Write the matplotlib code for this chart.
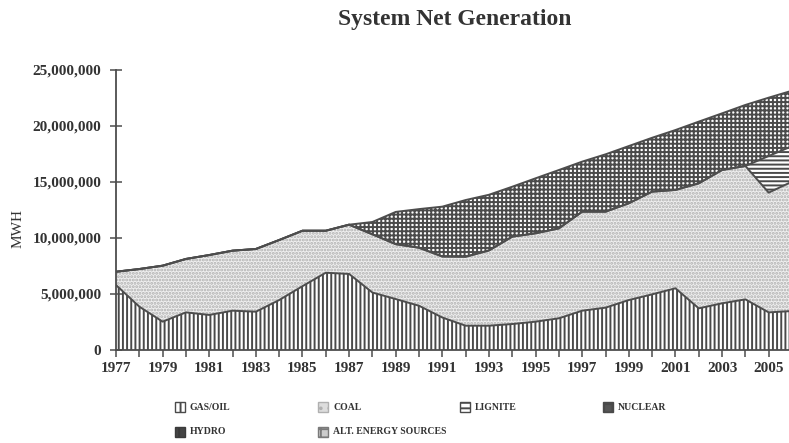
import numpy as np
import matplotlib
matplotlib.use('Agg')
import matplotlib.pyplot as plt
from matplotlib.patches import Rectangle
from matplotlib.ticker import FuncFormatter

plt.rcParams['font.family'] = 'Liberation Serif'
plt.rcParams['hatch.linewidth'] = 1.4

# values in millions of MWH
years = np.arange(1977, 2007)
gas_oil = np.array([5.80, 3.87, 2.53, 3.36, 3.13, 3.51, 3.42, 4.46, 5.70, 6.90,
                    6.79, 5.13, 4.55, 3.95, 2.90, 2.17, 2.17, 2.32, 2.53, 2.83,
                    3.51, 3.78, 4.46, 4.97, 5.51, 3.72, 4.17, 4.52, 3.36, 3.48])
coal = np.array([1.19, 3.36, 5.00, 4.77, 5.35, 5.36, 5.60, 5.36, 4.95, 3.75,
                 4.40, 5.20, 4.90, 5.18, 5.45, 6.16, 6.72, 7.80, 7.89, 8.03,
                 8.84, 8.57, 8.64, 9.17, 8.78, 11.16, 11.90, 11.91, 10.69, 11.55])
lignite = np.array([0, 0, 0, 0, 0, 0, 0, 0, 0, 0,
                    0, 0, 0, 0, 0, 0, 0, 0, 0, 0,
                    0, 0, 0, 0, 0, 0, 0, 0, 3.27, 3.17])
nuclear = np.array([0, 0, 0, 0, 0, 0, 0, 0, 0, 0,
                    0, 1.10, 2.88, 3.45, 4.45, 5.06, 4.97, 4.46, 4.91, 5.21,
                    4.47, 5.12, 5.11, 4.81, 5.35, 5.51, 5.06, 5.45, 5.21, 4.95])
hydro = np.zeros(len(years))
alt_energy = np.zeros(len(years))

names = ['GAS/OIL', 'COAL', 'LIGNITE', 'NUCLEAR', 'HYDRO', 'ALT. ENERGY SOURCES']
series = [gas_oil, coal, lignite, nuclear, hydro, alt_energy]
series = [s * 1e6 for s in series]

faces = ['white', '#efefef', 'white', 'white', 'white', '#dddddd']
hatches = ['||||', '.....', '----', '++++', '|||', '+++']
hcolors = ['#4a4a4a', '#b0b0b0', '#4a4a4a', '#4a4a4a', '#3a3a3a', '#7a7a7a']
line_c = '#4d4d4d'
text_c = '#333333'

fig = plt.figure(figsize=(7.89, 4.43), dpi=100)
ax = fig.add_axes([116/789, 1-350/443, 676/789, 280/443])

polys = ax.stackplot(years, *series, colors=faces, linewidth=0)
for p, h, c in zip(polys, hatches, hcolors):
    p.set_hatch(h)
    p.set_edgecolor(c)

cum = np.cumsum(series, axis=0)
for k in range(4):
    ax.plot(years, cum[k], color=line_c, lw=1.4, zorder=3)

ax.set_xlim(1977, 2006)
ax.set_ylim(0, 25e6)
ax.set_xticks(years[::2])
ax.set_xticks(years, minor=True)
ax.set_yticks(np.arange(0, 25e6 + 1, 5e6))
ax.yaxis.set_major_formatter(FuncFormatter(lambda v, p: '{:,.0f}'.format(v)))

for s in ['top', 'right']:
    ax.spines[s].set_visible(False)
for s in ['left', 'bottom']:
    ax.spines[s].set_color(line_c)
    ax.spines[s].set_linewidth(1.3)
    ax.spines[s].set_zorder(4)

ax.tick_params(axis='x', which='both', length=5, width=1.1, color=line_c,
               labelsize=11, labelcolor=text_c, pad=4)
ax.tick_params(axis='y', direction='inout', length=9, width=1.1, color=line_c,
               labelsize=11, labelcolor=text_c, pad=6)
for lab in ax.get_xticklabels() + ax.get_yticklabels():
    lab.set_fontweight('bold')

fig.text(18/789, 1-228/443, 'MWH', rotation=90, ha='center', va='center',
         fontsize=11, color=text_c)
fig.text(455/789, 1-20/443, 'System Net Generation', ha='center', va='center',
         fontsize=17, fontweight='bold', color=text_c)

# legend under the plot, two rows
leg_hatch = ['|||', '..', '---', '++', '||', '++']
leg_face = ['white', '#dddddd', 'white', '#555555', '#444444', '#cccccc']
slots = [(175, 407), (318, 407), (460, 407), (603, 407), (175, 432), (318, 432)]
for (x, y), n, f, h, c in zip(slots, names, leg_face, leg_hatch, hcolors):
    fig.add_artist(Rectangle((x/789, 1-(y+5)/443), 10/789, 10/443,
                             facecolor=f, hatch=h, edgecolor=c, lw=1.0,
                             transform=fig.transFigure))
    fig.text((x+15)/789, 1-y/443, n, ha='left', va='center', fontsize=7,
             fontweight='bold', color=text_c)

fig.savefig('out.png', dpi=100)
